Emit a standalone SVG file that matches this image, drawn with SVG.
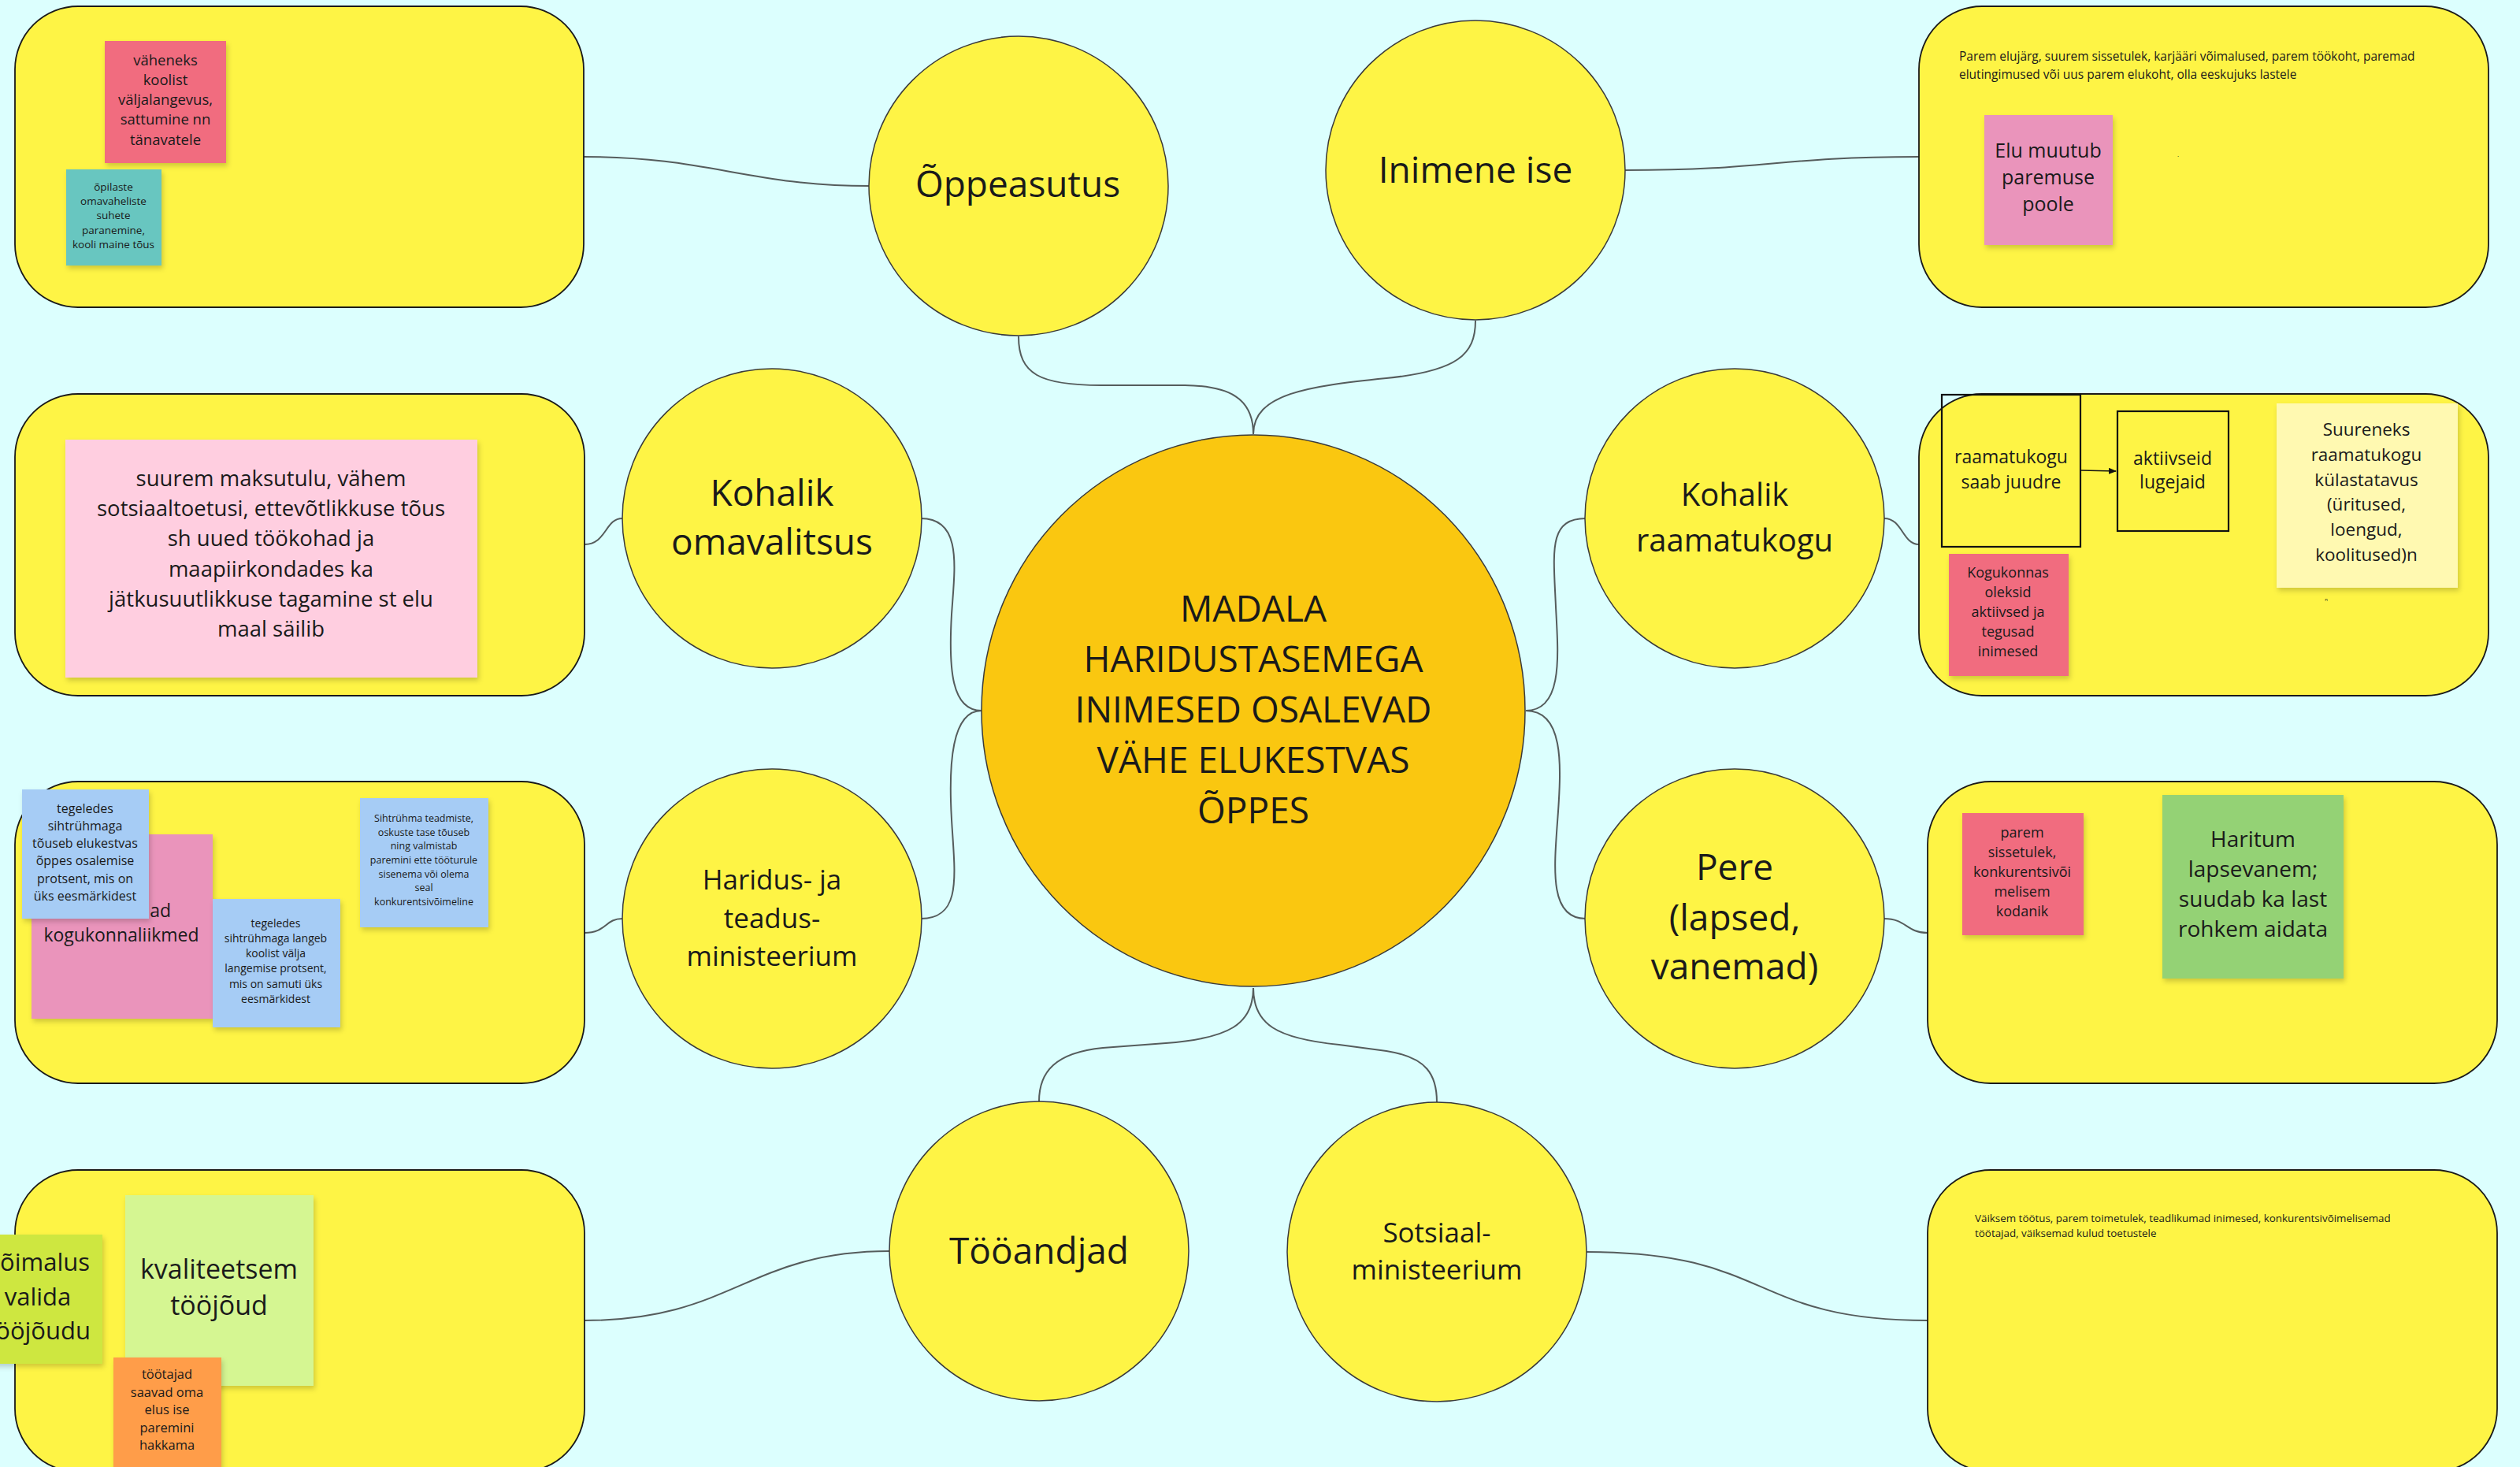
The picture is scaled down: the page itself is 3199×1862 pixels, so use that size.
<svg xmlns="http://www.w3.org/2000/svg" width="3199" height="1862" viewBox="0 0 3199 1862">
<defs>
<style>
.bg{fill:#dcfffe}
.box{fill:#fef445;stroke:#1a1a1a;stroke-width:1.8}
.node{fill:#fef445;stroke:#3a3a3a;stroke-width:1.5}
.core{fill:#fac710;stroke:#3a3a3a;stroke-width:1.5}
.conn{fill:none;stroke:#555c5c;stroke-width:2}
.t{font-family:"Open Sans","Noto Sans","Liberation Sans",sans-serif;fill:#1a1a1a;text-anchor:middle}
.l{font-family:"Open Sans","Noto Sans","Liberation Sans",sans-serif;fill:#1a1a1a;text-anchor:start}
.e{font-family:"Open Sans","Noto Sans","Liberation Sans",sans-serif;fill:#1a1a1a;text-anchor:end}
.st{filter:url(#sh)}
.frame{fill:none;stroke:#111;stroke-width:2.2}
</style>
<filter id="sh" x="-10%" y="-10%" width="130%" height="130%">
<feDropShadow dx="2" dy="4" stdDeviation="3" flood-color="#000" flood-opacity="0.18"/>
</filter>
<marker id="arr" markerWidth="10" markerHeight="8" refX="9" refY="4" orient="auto" markerUnits="userSpaceOnUse">
<path d="M0,0 L10,4 L0,8 z" fill="#111"/>
</marker>
</defs>
<rect class="bg" x="0" y="0" width="3199" height="1862"/>

<g id="connectors">
<path class="conn" d="M1293,427 C1293,475 1320,489 1398,489 L1504,489 C1560,490 1591,505 1591,551"/>
<path class="conn" d="M1873,407 C1873,450 1850,471 1760,480 C1660,490 1591,500 1591,551"/>
<path class="conn" d="M741,199 C900,199 950,236 1104,236"/>
<path class="conn" d="M2062,216 C2250,216 2250,199 2436,199"/>
<path class="conn" d="M742,691 C770,691 768,658 790,658"/>
<path class="conn" d="M1169,658 C1222,658 1212,720 1208,780 C1204,850 1208,902 1246,902"/>
<path class="conn" d="M1169,1166 C1222,1166 1212,1110 1208,1040 C1204,970 1208,902 1246,902"/>
<path class="conn" d="M742,1184 C770,1184 768,1166 790,1166"/>
<path class="conn" d="M1937,902 C1985,902 1978,830 1975,770 C1972,700 1965,658 2013,658"/>
<path class="conn" d="M1937,902 C1985,902 1982,970 1978,1030 C1973,1100 1965,1166 2013,1166"/>
<path class="conn" d="M2392,658 C2415,658 2415,691 2436,691"/>
<path class="conn" d="M2392,1166 C2420,1166 2420,1184 2447,1184"/>
<path class="conn" d="M1591,1254 C1591,1300 1560,1318 1480,1324 L1400,1330 C1340,1336 1319,1360 1319,1398"/>
<path class="conn" d="M1591,1254 C1591,1300 1620,1318 1700,1326 L1760,1334 C1812,1342 1824,1365 1824,1399"/>
<path class="conn" d="M1129,1588 C950,1588 930,1676 742,1676"/>
<path class="conn" d="M2014,1589 C2250,1589 2220,1676 2447,1676"/>
</g>

<g id="box-oppeasutus">
<rect class="box" x="19" y="8" width="722" height="382" rx="80" ry="80"/>
<g class="st">
<rect x="133" y="52" width="154" height="155" fill="#f16c7f"/>
<rect x="84" y="215" width="121" height="122" fill="#67c6c0"/>
</g>
<text class="t" font-size="18.5"><tspan x="210" y="83">väheneks</tspan><tspan x="210" y="108">koolist</tspan><tspan x="210" y="133">väljalangevus,</tspan><tspan x="210" y="158">sattumine nn</tspan><tspan x="210" y="184">tänavatele</tspan></text>
<text class="t" font-size="13.5"><tspan x="144" y="242">õpilaste</tspan><tspan x="144" y="260">omavaheliste</tspan><tspan x="144" y="278">suhete</tspan><tspan x="144" y="297">paranemine,</tspan><tspan x="144" y="315">kooli maine tõus</tspan></text>
</g>

<g id="box-omavalitsus">
<rect class="box" x="19" y="500" width="723" height="383" rx="80" ry="80"/>
<rect class="st" x="83" y="558" width="523" height="302" fill="#ffcee0"/>
<text class="t" font-size="27.5"><tspan x="344" y="617">suurem maksutulu, vähem</tspan><tspan x="344" y="655">sotsiaaltoetusi, ettevõtlikkuse tõus</tspan><tspan x="344" y="693">sh uued töökohad ja</tspan><tspan x="344" y="732">maapiirkondades ka</tspan><tspan x="344" y="770">jätkusuutlikkuse tagamine st elu</tspan><tspan x="344" y="808">maal säilib</tspan></text>
</g>

<g id="box-haridus">
<rect class="box" x="19" y="992" width="723" height="383" rx="80" ry="80"/>
<rect class="st" x="40" y="1059" width="230" height="234" fill="#ea94bb"/>
<text class="e" font-size="23" x="217" y="1164">ad</text>
<text class="t" font-size="23" x="154" y="1195">kogukonnaliikmed</text>
<rect class="st" x="28" y="1002" width="161" height="164" fill="#a6ccf5"/>
<text class="t" font-size="16"><tspan x="108" y="1032">tegeledes</tspan><tspan x="108" y="1054">sihtrühmaga</tspan><tspan x="108" y="1076">tõuseb elukestvas</tspan><tspan x="108" y="1098">õppes osalemise</tspan><tspan x="108" y="1121">protsent, mis on</tspan><tspan x="108" y="1143">üks eesmärkidest</tspan></text>
<rect class="st" x="270" y="1141" width="162" height="163" fill="#a6ccf5"/>
<text class="t" font-size="14"><tspan x="350" y="1177">tegeledes</tspan><tspan x="350" y="1196">sihtrühmaga langeb</tspan><tspan x="350" y="1215">koolist välja</tspan><tspan x="350" y="1234">langemise protsent,</tspan><tspan x="350" y="1254">mis on samuti üks</tspan><tspan x="350" y="1273">eesmärkidest</tspan></text>
<rect class="st" x="457" y="1013" width="163" height="164" fill="#a6ccf5"/>
<text class="t" font-size="12.5"><tspan x="538" y="1043">Sihtrühma teadmiste,</tspan><tspan x="538" y="1061">oskuste tase tõuseb</tspan><tspan x="538" y="1078">ning valmistab</tspan><tspan x="538" y="1096">paremini ette tööturule</tspan><tspan x="538" y="1114">sisenema või olema</tspan><tspan x="538" y="1131">seal</tspan><tspan x="538" y="1149">konkurentsivõimeline</tspan></text>
</g>

<g id="box-tooandjad">
<rect class="box" x="19" y="1485" width="723" height="383" rx="80" ry="80"/>
<rect class="st" x="-40" y="1567" width="170" height="164" fill="#cee741"/>
<text class="e" font-size="31" x="114" y="1613">õimalus</text>
<text class="t" font-size="31" x="48" y="1657">valida</text>
<text class="e" font-size="31" x="115" y="1700">ööjõudu</text>
<rect class="st" x="159" y="1517" width="239" height="242" fill="#d5f692"/>
<text class="t" font-size="34"><tspan x="278" y="1623">kvaliteetsem</tspan><tspan x="278" y="1669">tööjõud</tspan></text>
<rect class="st" x="144" y="1723" width="137" height="150" fill="#ff9d48"/>
<text class="t" font-size="16.5"><tspan x="212" y="1750">töötajad</tspan><tspan x="212" y="1773">saavad oma</tspan><tspan x="212" y="1795">elus ise</tspan><tspan x="212" y="1818">paremini</tspan><tspan x="212" y="1840">hakkama</tspan></text>
</g>

<g id="box-inimene">
<rect class="box" x="2436" y="8" width="723" height="382" rx="80" ry="80"/>
<text class="l" font-size="15.5"><tspan x="2487" y="77">Parem elujärg, suurem sissetulek, karjääri võimalused, parem töökoht, paremad</tspan><tspan x="2487" y="100">elutingimused või uus parem elukoht, olla eeskujuks lastele</tspan></text>
<rect class="st" x="2519" y="146" width="163" height="165" fill="#ea94bb"/>
<text class="t" font-size="25"><tspan x="2600" y="200">Elu muutub</tspan><tspan x="2600" y="234">paremuse</tspan><tspan x="2600" y="268">poole</tspan></text>
<text class="t" font-size="8" x="2765" y="199">.</text>
</g>

<g id="box-raamatukogu">
<rect class="box" x="2436" y="500" width="723" height="383" rx="80" ry="80"/>
<rect class="frame" x="2465" y="501" width="176" height="193"/>
<text class="t" font-size="23"><tspan x="2553" y="588">raamatukogu</tspan><tspan x="2553" y="620">saab juudre</tspan></text>
<rect class="frame" x="2688" y="522" width="141" height="152"/>
<text class="t" font-size="23"><tspan x="2758" y="590">aktiivseid</tspan><tspan x="2758" y="620">lugejaid</tspan></text>
<path d="M2642,597 L2686,598" fill="none" stroke="#111" stroke-width="1.5" marker-end="url(#arr)"/>
<rect class="st" x="2890" y="512" width="230" height="234" fill="#fff9b1"/>
<text class="t" font-size="22.5"><tspan x="3004" y="553">Suureneks</tspan><tspan x="3004" y="585">raamatukogu</tspan><tspan x="3004" y="617">külastatavus</tspan><tspan x="3004" y="648">(üritused,</tspan><tspan x="3004" y="680">loengud,</tspan><tspan x="3004" y="712">koolitused)n</tspan></text>
<text class="t" font-size="6" x="2953" y="763">n</text>
<rect class="st" x="2474" y="703" width="152" height="155" fill="#f16c7f"/>
<text class="t" font-size="18"><tspan x="2549" y="733">Kogukonnas</tspan><tspan x="2549" y="758">oleksid</tspan><tspan x="2549" y="783">aktiivsed ja</tspan><tspan x="2549" y="808">tegusad</tspan><tspan x="2549" y="833">inimesed</tspan></text>
</g>

<g id="box-pere">
<rect class="box" x="2447" y="992" width="723" height="383" rx="80" ry="80"/>
<rect class="st" x="2491" y="1032" width="154" height="155" fill="#f16c7f"/>
<text class="t" font-size="18"><tspan x="2567" y="1063">parem</tspan><tspan x="2567" y="1088">sissetulek,</tspan><tspan x="2567" y="1113">konkurentsivõi</tspan><tspan x="2567" y="1138">melisem</tspan><tspan x="2567" y="1163">kodanik</tspan></text>
<rect class="st" x="2745" y="1009" width="230" height="233" fill="#94d275"/>
<text class="t" font-size="28"><tspan x="2860" y="1075">Haritum</tspan><tspan x="2860" y="1113">lapsevanem;</tspan><tspan x="2860" y="1151">suudab ka last</tspan><tspan x="2860" y="1189">rohkem aidata</tspan></text>
</g>

<g id="box-sotsiaal">
<rect class="box" x="2447" y="1485" width="723" height="383" rx="80" ry="80"/>
<text class="l" font-size="13.4"><tspan x="2507" y="1551">Väiksem töötus, parem toimetulek, teadlikumad inimesed, konkurentsivõimelisemad</tspan><tspan x="2507" y="1570">töötajad, väiksemad kulud toetustele</tspan></text>
</g>

<g id="node-center">
<ellipse class="core" cx="1591" cy="902" rx="345" ry="350"/>
<text class="t" font-size="46"><tspan x="1591" y="789">MADALA</tspan><tspan x="1591" y="853">HARIDUSTASEMEGA</tspan><tspan x="1591" y="917">INIMESED OSALEVAD</tspan><tspan x="1591" y="981">VÄHE ELUKESTVAS</tspan><tspan x="1591" y="1045">ÕPPES</tspan></text>
</g>
<g id="node-oppeasutus">
<circle class="node" cx="1293" cy="236" r="190"/>
<text class="t" font-size="46" x="1292" y="250">Õppeasutus</text>
</g>
<g id="node-inimene">
<circle class="node" cx="1873" cy="216" r="190"/>
<text class="t" font-size="46" x="1873" y="232">Inimene ise</text>
</g>
<g id="node-omavalitsus">
<circle class="node" cx="980" cy="658" r="190"/>
<text class="t" font-size="46"><tspan x="980" y="642">Kohalik</tspan><tspan x="980" y="704">omavalitsus</tspan></text>
</g>
<g id="node-haridus">
<circle class="node" cx="980" cy="1166" r="190"/>
<text class="t" font-size="35"><tspan x="980" y="1129">Haridus- ja</tspan><tspan x="980" y="1178">teadus-</tspan><tspan x="980" y="1226">ministeerium</tspan></text>
</g>
<g id="node-raamatukogu">
<circle class="node" cx="2202" cy="658" r="190"/>
<text class="t" font-size="40"><tspan x="2202" y="642">Kohalik</tspan><tspan x="2202" y="700">raamatukogu</tspan></text>
</g>
<g id="node-pere">
<circle class="node" cx="2202" cy="1166" r="190"/>
<text class="t" font-size="46"><tspan x="2202" y="1117">Pere</tspan><tspan x="2202" y="1181">(lapsed,</tspan><tspan x="2202" y="1243">vanemad)</tspan></text>
</g>
<g id="node-tooandjad">
<circle class="node" cx="1319" cy="1588" r="190"/>
<text class="t" font-size="46" x="1319" y="1604">Tööandjad</text>
</g>
<g id="node-sotsiaal">
<circle class="node" cx="1824" cy="1589" r="190"/>
<text class="t" font-size="35"><tspan x="1824" y="1577">Sotsiaal-</tspan><tspan x="1824" y="1624">ministeerium</tspan></text>
</g>
</svg>
